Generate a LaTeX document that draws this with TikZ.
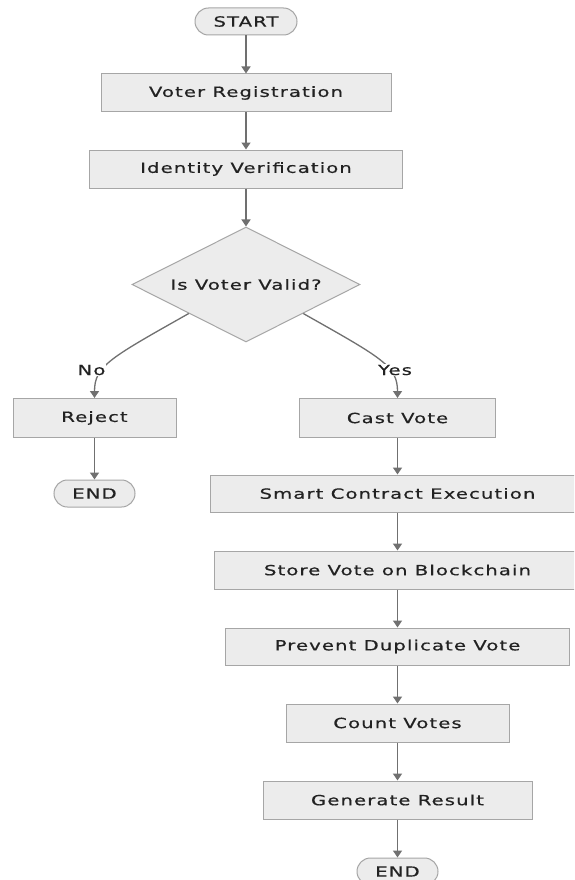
\documentclass[tikz,border=0pt]{standalone}
\usepackage{fontspec}
\setmainfont{DejaVu Sans}[FakeStretch=1.4, LetterSpace=8, FakeBold=0.6]
\usetikzlibrary{shapes.geometric,arrows.meta}
\definecolor{boxfill}{HTML}{ECECEC}
\definecolor{boxline}{HTML}{A6A6A6}
\definecolor{arrowc}{HTML}{707070}
\definecolor{txt}{HTML}{222222}
\tikzset{
  base/.style={draw=boxline, fill=boxfill, line width=1pt, inner sep=0pt, text=txt,
    font=\fontsize{14}{16}\selectfont, align=center},
  procbox/.style={base, rectangle},
  termbox/.style={base, rectangle, rounded corners=13.5pt, minimum height=27pt},
  decbox/.style={base, diamond, minimum width=228pt, minimum height=115pt},
  conn/.style={draw=arrowc, line width=1.3pt, -{Triangle[width=9pt,length=7pt]}},
  elabel/.style={fill=white, inner sep=1pt, text=txt, font=\fontsize{14}{16}\selectfont}
}
\begin{document}
\begin{tikzpicture}[x=1pt,y=-1pt]
\useasboundingbox (0,0) rectangle (574,880);
\fill[white] (0,0) rectangle (574,880);
\clip (0,0) rectangle (574,880);

\node[termbox, minimum width=102pt] (start) at (246,21.5) {START};
\node[procbox, minimum width=290pt, minimum height=38pt] (vr) at (246,93) {Voter Registration};
\node[procbox, minimum width=313pt, minimum height=38pt] (iv) at (246,169) {Identity Verification};
\node[decbox, label={[text=txt, font=\fontsize{14}{16}\selectfont]center:Is Voter Valid?}] (dec) at (246,284.5) {};

\node[procbox, minimum width=163pt, minimum height=39pt] (reject) at (94.5,418) {Reject};
\node[termbox, minimum width=81pt] (end1) at (94.5,493.5) {END};

\node[procbox, minimum width=196pt, minimum height=39pt] (cast) at (397.5,418) {Cast Vote};
\node[procbox, minimum width=374pt, minimum height=37pt] (smart) at (397.5,493.5) {Smart Contract Execution};
\node[procbox, minimum width=366pt, minimum height=38pt] (store) at (397.5,570) {Store Vote on Blockchain};
\node[procbox, minimum width=344pt, minimum height=37pt] (prevent) at (397.5,646.5) {Prevent Duplicate Vote};
\node[procbox, minimum width=223pt, minimum height=38pt] (count) at (397.5,723) {Count Votes};
\node[procbox, minimum width=269pt, minimum height=38pt] (gen) at (397.5,800) {Generate Result};
\node[termbox, minimum width=81pt] (end2) at (397.5,871.5) {END};

\draw[conn] (start) -- (vr);
\draw[conn] (vr) -- (iv);
\draw[conn] (iv) -- (dec);

\draw[conn] (dec.south west) .. controls (110,358) and (94.5,366) .. (reject.north);
\draw[conn] (dec.south east) .. controls (382,358) and (397.5,366) .. (cast.north);
\node[elabel] (lno) at (91.5,370) {No};
\node[elabel] (lyes) at (395,370) {Yes};

\draw[conn] (reject) -- (end1);
\draw[conn] (cast) -- (smart);
\draw[conn] (smart) -- (store);
\draw[conn] (store) -- (prevent);
\draw[conn] (prevent) -- (count);
\draw[conn] (count) -- (gen);
\draw[conn] (gen) -- (end2);
\end{tikzpicture}
\end{document}
